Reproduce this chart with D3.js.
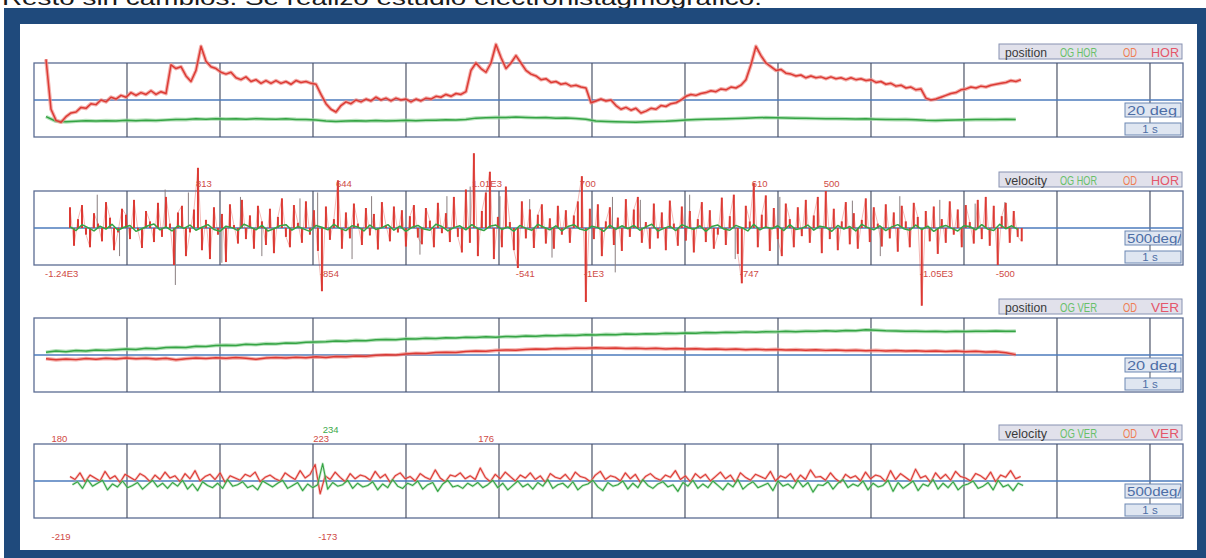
<!DOCTYPE html>
<html>
<head>
<meta charset="utf-8">
<script src="https://cdn.jsdelivr.net/npm/d3@7"></script>
<style>
  html, body { margin: 0; padding: 0; background: #fff; }
  svg { display: block; }
</style>
</head>
<body>
<script>
// ---------------- recorded traces (ENG) ----------------
// horizontal position, degrees (OD = red, OG = green)
const posHorOD = [22,-5,-11,-12,-9,-7,-6.5,-4,-4.5,-2,-2.5,0,-1,1.5,0.5,2.5,1.5,4,2.5,4,
  3,5,3,4.5,3.5,19,17,18,13,10,16,29,21,18,17,15,14,15,12,11,
  12.5,10,11,9,10.5,9,10.5,9,10,8.5,10.5,9.5,10,9,8.5,3,-2,-5,-6.5,-3,
  -1,-2,0,-1,0.5,-0.5,1.5,0,1,-0.5,1,0,0.5,-1,0.5,-0.5,1,0.5,2,1.5,
  3,2,3.5,3,4.5,16,20,17,15,20,30,23,17,20,24,20,16,14,13,11,
  11.5,9.5,10,8.5,9,7.5,8,7,6.5,-1.5,-0.5,0.5,-0.5,0,-3,-5,-4,-5.5,-4.5,-7,
  -6,-4.5,-5,-3,-3.5,-2,-1.5,0,2,3,2.5,3.5,4,5,4.5,6,5.5,7,6.5,8,
  11,19,29,24,20,18,16,16.5,14.5,14,13,13.5,12,13,12,12.5,11.5,12.5,11.5,12,
  11,12,11,11.5,10.5,11,9.5,10,8.5,9,7.5,8,6.5,7,5.5,6,1,0,0.5,1.5,
  2.5,3.5,4,5.5,6,7,6.5,7.5,7,8,8.5,9,9.5,10.5,10,11];
const posHorOG = [-9,-11.5,-11.8,-11.5,-11.2,-11.4,-11.2,-11.3,-11,-11.2,-10.9,-11.1,-10.8,-10.5,-10.6,-10.2,-10.4,-10.1,-10.3,-10.2,
  -10.4,-10.1,-10.3,-10.4,-10.2,-10.5,-10.6,-10.8,-11.3,-11.6,-11.4,-11.2,-11.4,-11.1,-11.3,-11.2,-11,-11.2,-11,-10.9,
  -10.7,-10.8,-10.5,-9.8,-9.6,-9.4,-9.5,-9.2,-9.4,-9.6,-9.5,-9.8,-9.7,-10,-10.4,-11.4,-11.6,-11.8,-11.9,-12,
  -11.8,-11.6,-11.5,-11.2,-10.8,-10.6,-10.4,-10.3,-10.2,-10,-9.8,-9.6,-9.5,-9.6,-9.7,-9.8,-9.9,-10,-10.1,-10.1,
  -10.2,-10.3,-10.2,-10.4,-10.5,-10.6,-10.5,-10.7,-11,-11.1,-10.9,-10.8,-10.7,-10.6,-10.5,-10.6,-10.4,-10.5];

// horizontal velocity, deg/s
const velHorOD = [280,-240,120,310,-90,-260,200,60,-180,350,
  140,-300,-60,260,180,-150,380,-40,-270,230,
  90,-190,340,-120,420,60,-500,210,300,-380,
  -60,250,813,-300,110,-420,280,-90,190,-460,
  320,40,-210,380,-150,170,-280,300,90,-230,
  260,-340,150,400,-120,-260,310,70,-200,360,
  -90,240,-310,-854,290,-160,120,644,-280,210,
  -140,330,60,-230,270,-100,190,-290,350,40,
  -180,290,-60,240,-250,160,310,-130,-220,270,
  100,-260,340,-70,200,-190,420,-120,-330,520,
  -200,1010,-380,230,480,760,-420,150,-260,560,
  80,-300,-541,360,-140,250,-270,180,320,-210,
  130,-280,300,-90,240,-200,170,360,700,-1000,
  260,-150,320,-380,90,280,-230,140,-310,390,
  -120,250,420,-200,80,-280,330,-140,210,-300,
  370,60,-240,290,-170,230,-330,120,350,-190,
  240,-280,-90,410,-230,160,450,-350,-747,300,
  90,610,-260,180,440,-310,270,-150,-380,330,
  120,-260,280,-110,380,-200,170,420,-340,500,
  -150,260,-300,90,350,-220,200,-280,110,400,
  -190,280,60,-250,320,-140,210,-320,300,90,
  -260,340,150,-1050,230,-180,290,-350,120,-200,
  360,-90,250,-260,310,80,-210,380,-150,420,
  -240,300,-500,160,340,-200,230,-120,-180];
const velHorOG = [20,-35,45,5,-40,25,-15,50,-30,10,35,-45,-10,30,55,-25,15,-40,30,-5,
  40,-30,10,45,-20,-45,25,5,-35,50,15,-25,35,-40,-10,30,45,-30,20,-15,
  -45,35,10,-25,50,-5,-35,30,15,-40,40,-20,5,45,-30,25,-45,10,35,-15,
  -30,50,20,-40,5,30,-25,45,-10,-35,25,40,-20,15,-45,35,-5,-30,50,10,
  -25,30,-40,20,45,-15,-35,25,5,-45,40,-20,30,-10,35,-30,15,50,-40,-5,
  25,-35,45,10,-20,30,-45,20,40,-15,-30,35,5,-40,50,-25,15,-10,30,-35,
  45,-20,-5,40,-30,25,10,-45,35,-15,20,-40,50,5,-25,30,-35,15,45,-10,
  -30,40,-20,25,-45,10,35,-5,-40,30,20,-25,45,-15,-35,50,-10,30,-20];
// thin single-sample bursts of the horizontal velocity trace: [time s, deg/s]
const velHorBursts = [[0.68,450],[0.92,-380],[1.41,520],[1.52,-770],[1.66,480],[2.02,-470],[2.22,420],
  [2.45,-380],[2.86,400],[3.05,480],[3.42,-420],[3.63,430],[4.15,-360],[4.44,430],[4.69,560],
  [5.01,430],[5.33,390],[5.57,-400],[6.22,420],[6.25,-600],[6.52,380],[7.05,450],[7.54,-420],
  [8.02,420],[8.80,370],[9.10,-380],[9.31,430],[9.74,380],[10.12,330],[10.44,350]];

// vertical position, degrees
const posVerOG = [1.5,2.2,1.8,2.4,2.1,2.7,2.5,2.9,3.2,3.0,3.6,3.4,4.0,4.2,4.0,4.7,4.6,5.2,5.3,5.2,
  5.8,5.6,6.1,6.0,6.5,6.4,6.9,7.0,7.2,7.6,7.4,7.9,7.7,8.2,8.4,8.3,8.8,8.7,9.1,8.9,
  9.3,9.2,9.6,9.5,9.8,9.6,10.0,9.9,10.3,10.1,10.5,10.4,10.7,10.6,11.0,10.8,11.1,11.0,11.4,11.2,
  11.5,11.4,11.7,11.6,11.9,11.8,12.1,12.0,12.3,12.2,12.5,12.3,12.6,12.5,12.8,12.6,12.9,12.8,13.1,12.9,
  13.2,13.1,13.6,13.4,13.1,13.0,12.8,12.9,12.7,12.8,12.6,12.8,12.7,12.9,12.8,13.0,12.8,12.9];
const posVerOD = [-2.0,-2.6,-2.2,-2.5,-1.9,-2.3,-1.8,-2.1,-1.6,-2.0,-1.7,-2.2,-1.8,-2.6,-2.0,-1.6,-1.9,-1.5,-1.8,-1.4,
  -1.7,-2.3,-1.6,-1.3,-1.6,-1.2,-1.5,-1.0,-1.3,-0.8,-1.0,-0.5,-0.7,-0.2,0.1,0.0,0.6,0.9,0.8,1.3,
  1.5,1.4,1.9,2.1,2.0,2.5,2.7,2.6,3.0,3.2,3.1,3.5,3.4,3.7,3.6,3.9,3.7,3.8,3.5,3.7,
  3.4,3.6,3.3,3.5,3.2,3.4,3.1,3.3,3.0,3.2,2.9,3.1,2.8,3.0,2.7,2.9,2.6,2.8,2.5,2.7,
  2.4,2.6,2.3,2.5,2.2,2.4,2.1,2.3,2.0,2.2,1.9,2.1,1.8,2.0,1.6,1.8,1.2,0.2];

// vertical velocity, deg/s
const velVerOD = [60,20,110,-10,80,40,0,130,30,70,-20,90,50,10,100,60,-10,80,20,120,
  40,70,-10,100,30,140,0,60,90,20,110,-20,70,40,10,90,60,120,-10,50,
  80,30,0,110,60,20,140,40,90,223,-173,70,20,120,50,-10,100,30,80,60,
  10,130,40,90,-20,70,110,30,60,0,100,50,20,150,40,-10,80,60,110,30,
  70,20,176,50,-10,90,30,120,60,0,80,40,110,20,70,-20,100,50,30,90,
  10,120,60,40,-10,80,130,20,70,50,0,110,30,90,-20,60,100,40,10,80,
  50,140,20,70,-10,100,40,90,0,60,120,30,80,-20,110,50,10,90,60,30,
  130,0,70,40,100,-10,80,20,150,50,60,10,110,30,-20,90,40,70,0,120,
  30,80,60,-10,140,20,100,50,0,160,40,70,-20,110,30,90,10,130,60,40,
  0,100,70,20,120,-10,80,50,140,30,60];
const velVerOG = [-50,-10,-100,20,-70,-30,10,-120,-40,-80,0,-90,-60,-20,-110,-50,10,-80,-30,-100,
  -20,-70,10,-110,-40,-130,-10,-60,-90,-30,-100,20,-70,-50,-10,-90,-60,-120,0,-40,
  -80,-30,10,-100,-60,-20,-130,-40,-90,-50,234,-110,-20,-70,-50,10,-100,-30,-80,-60,
  -10,-120,-40,-90,20,-70,-100,-30,-60,0,-110,-50,-20,-140,-40,10,-80,-60,-100,-30,
  -70,-20,-90,-50,10,-90,-30,-120,-60,0,-80,-40,-110,-20,-70,20,-100,-50,-30,-90,
  -10,-120,-60,-40,10,-80,-130,-20,-70,-50,0,-110,-30,-90,20,-60,-100,-40,-10,-80,
  -50,-140,-20,-70,10,-100,-40,-90,0,-60,-120,-30,-80,20,-110,-50,-10,-90,-60,-30,
  -130,0,-70,-40,-100,10,-80,-20,-150,-50,-60,-10,-110,-30,20,-90,-40,-70,0,-120,
  -30,-80,-60,10,-140,-20,-100,-50,0,-130,-40,-70,20,-110,-30,-90,-10,-120,-60,-40,
  0,-100,-70,-20,-120,10,-80,-50,-130,-30,-60];

// annotated extremes: sample index into a trace (or a time for the ones before the trace)
const velHorPeakIdx = [32,67,101,128,171,189,63,112,129,168,213,232];
const velHorEarly = [[0.14,-1240]];
const velVerPeaksOD = [49,82,50];
const velVerPeaksOG = [50];
const velVerEarly = [[0.21,180],[0.21,-219]];

// time base of each recording (s)
const tPosStart = 0.129, dtPosOD = 0.05376, dtPos = 0.1075;
const tVelStart = 0.387, dtVelHorOD = 0.043, dtVelHorOG = 0.0645, dtVelVer = 0.0538;

// ---------------- drawing ----------------
const W = 1206, H = 558;
const RED = "#dc3a34", RED_HALO = "#ee8d87", GREEN = "#35a444", GREEN_HALO = "#94d39b";
const svg = d3.select("body").append("svg").attr("width", W).attr("height", H)
  .style("font-family", "'Liberation Sans', Arial, sans-serif");

svg.append("text").attr("x", 2).attr("y", 5).attr("font-size", 21).attr("fill", "#1a1a1a")
  .attr("textLength", 760).attr("lengthAdjust", "spacingAndGlyphs")
  .text("Resto sin cambios. Se realizó estudio electronistagmográfico.");

svg.append("rect").attr("x", 4).attr("y", 8).attr("width", W - 4).attr("height", H - 8).attr("fill", "#1f4a7c");
svg.append("rect").attr("x", 20).attr("y", 24).attr("width", 1177).attr("height", 526).attr("fill", "#fff");

const x = d3.scaleLinear().domain([0, 12.355]).range([34, 1183]);
const panelH = 74;

const panels = [
  { top: 63,  kind: "position", plane: "HOR", scale: "20 deg" },
  { top: 191, kind: "velocity", plane: "HOR", scale: "500deg/s" },
  { top: 318, kind: "position", plane: "VER", scale: "20 deg" },
  { top: 444, kind: "velocity", plane: "VER", scale: "500deg/s" }
];

panels.forEach((p, k) => {
  const g = svg.append("g");
  const bottom = p.top + panelH, mid = p.top + panelH / 2;
  p.y = d3.scaleLinear().domain(p.kind === "position" ? [-20, 20] : [-500, 500]).range([bottom, p.top]);
  p.g = g;
  // frame and one-second grid
  g.append("rect").attr("x", x(0)).attr("y", p.top).attr("width", x(12.355) - x(0)).attr("height", panelH)
    .attr("fill", "none").attr("stroke", "#5b6c93").attr("stroke-width", 1.3);
  g.selectAll(".vg").data(d3.range(1, 12)).join("line")
    .attr("x1", d => x(d)).attr("x2", d => x(d)).attr("y1", p.top).attr("y2", bottom)
    .attr("stroke", "#4c5468").attr("stroke-width", 1.2);
  g.append("line").attr("x1", x(12)).attr("x2", x(12)).attr("y1", p.top).attr("y2", mid + 3)
    .attr("stroke", "#4c5468").attr("stroke-width", 1.2);
  g.append("line").attr("x1", x(0)).attr("x2", x(12.355)).attr("y1", p.y(0)).attr("y2", p.y(0))
    .attr("stroke", "#4d7bbd").attr("stroke-width", 1.3);

  // legend
  const ly = p.top - 19;
  g.append("rect").attr("x", 999).attr("y", ly).attr("width", 183).attr("height", 15)
    .attr("fill", "#e1e1eb").attr("stroke", "#8792b2").attr("stroke-width", 1);
  const leg = [
    { t: p.kind, x: 1005, w: 42, c: "#3a3a3a" },
    { t: "OG " + p.plane, x: 1060, w: 37, c: "#68c06a" },
    { t: "OD", x: 1123, w: 14, c: "#ef7d52" },
    { t: p.plane, x: 1151, w: 28, c: "#e4566a" }
  ];
  g.selectAll(".lg").data(leg).join("text")
    .attr("x", d => d.x).attr("y", ly + 12.5).attr("font-size", 13.5)
    .attr("textLength", d => d.w).attr("lengthAdjust", "spacingAndGlyphs")
    .attr("fill", d => d.c).text(d => d.t);

  // scale boxes
  const clipId = "clip" + k;
  svg.append("clipPath").attr("id", clipId).append("rect")
    .attr("x", 1125).attr("y", mid + 3).attr("width", 56).attr("height", 14);
  g.append("rect").attr("x", 1125).attr("y", mid + 3).attr("width", 56).attr("height", 14)
    .attr("fill", "#dfe6f1").attr("stroke", "#6d88b3");
  g.append("text").attr("clip-path", `url(#${clipId})`)
    .attr("x", 1127).attr("y", mid + 14.5).attr("font-size", 12.5).attr("fill", "#4d6ea6")
    .attr("textLength", p.kind === "position" ? 50 : 62).attr("lengthAdjust", "spacingAndGlyphs")
    .text(p.scale);
  g.append("line").attr("x1", x(12)).attr("x2", x(12)).attr("y1", mid + 17).attr("y2", mid + 23)
    .attr("stroke", "#4c5468");
  g.append("rect").attr("x", 1125).attr("y", mid + 23).attr("width", 56).attr("height", 12)
    .attr("fill", "#dfe6f1").attr("stroke", "#6d88b3");
  g.append("text").attr("x", 1150).attr("y", mid + 33).attr("text-anchor", "middle")
    .attr("font-size", 11.5).attr("fill", "#4d6ea6").text("1 s");
});

// traces: optional soft halo under a core stroke, as the recorder's thick pen
function trace(p, values, t0, dt, color, halo, width, haloWidth, haloOpacity) {
  const line = d3.line().x((d, i) => x(t0 + i * dt)).y(d => p.y(d));
  if (halo) p.g.append("path").datum(values).attr("d", line).attr("fill", "none")
    .attr("stroke", halo).attr("stroke-width", haloWidth || width + 2.2)
    .attr("stroke-opacity", haloOpacity || 0.7).attr("stroke-linejoin", "round");
  p.g.append("path").datum(values).attr("d", line).attr("fill", "none")
    .attr("stroke", color).attr("stroke-width", width).attr("stroke-linejoin", "round");
}
// horizontal velocity: one stem per sample plus a faint connecting trace
function stems(p, values, t0, dt, color, width) {
  p.g.append("g").selectAll("line").data(values).join("line")
    .attr("x1", (d, i) => x(t0 + i * dt)).attr("x2", (d, i) => x(t0 + i * dt))
    .attr("y1", p.y(0)).attr("y2", d => p.y(d))
    .attr("stroke", color).attr("stroke-width", width);
  p.g.append("path").datum(values)
    .attr("d", d3.line().x((d, i) => x(t0 + i * dt)).y(d => p.y(d)))
    .attr("fill", "none").attr("stroke", color).attr("stroke-width", 0.6).attr("stroke-opacity", 0.6);
}

// panel 1: horizontal position
trace(panels[0], posHorOG, tPosStart, dtPos, GREEN, GREEN_HALO, 1.5);
trace(panels[0], posHorOD, tPosStart, dtPosOD, RED, RED_HALO, 1.5);

// panel 2: horizontal velocity
panels[1].g.selectAll(".burst").data(velHorBursts).join("line")
  .attr("x1", d => x(d[0])).attr("x2", d => x(d[0]))
  .attr("y1", panels[1].y(0)).attr("y2", d => panels[1].y(d[1]))
  .attr("stroke", "#8a7f80").attr("stroke-width", 1);
stems(panels[1], velHorOD, tVelStart, dtVelHorOD, RED, 2);
trace(panels[1], velHorOG, tVelStart, dtVelHorOG, GREEN, null, 1.5);

// panel 3: vertical position
trace(panels[2], posVerOG, tPosStart, dtPos, GREEN, GREEN_HALO, 1.5);
trace(panels[2], posVerOD, tPosStart, dtPos, RED, RED_HALO, 1.5);

// panel 4: vertical velocity
trace(panels[3], velVerOD, tVelStart, dtVelVer, RED, RED_HALO, 1.1, 2.6, 0.5);
trace(panels[3], velVerOG, tVelStart + dtVelVer / 2, dtVelVer, GREEN, GREEN_HALO, 1.1, 2.6, 0.5);

// extreme-value annotations
function fmt(v) {
  const a = Math.abs(v);
  if (a >= 1000) return (v < 0 ? "-" : "") + (+(a / 1000).toPrecision(3)) + "E3";
  return String(v);
}
function label(p, t, v, color, topY, botY, dx) {
  p.g.append("text").attr("x", x(t) - 2 + (dx || 0)).attr("y", v >= 0 ? topY : botY)
    .attr("font-size", 9.5).attr("fill", color).text(fmt(v));
}
const P2 = panels[1], P4 = panels[3];
velHorPeakIdx.forEach(i => label(P2, tVelStart + i * dtVelHorOD, velHorOD[i], "#cf4a45", P2.top - 4, P2.top + panelH + 12));
velHorEarly.forEach(d => label(P2, d[0], d[1], "#cf4a45", P2.top - 4, P2.top + panelH + 12));
velVerPeaksOD.forEach(i => label(P4, tVelStart + i * dtVelVer, velVerOD[i], "#cf4a45", P4.top - 2, P4.top + panelH + 22));
velVerPeaksOG.forEach(i => label(P4, tVelStart + dtVelVer / 2 + i * dtVelVer, velVerOG[i], "#3da94a", P4.top - 11, P4.top + panelH + 22, 2));
velVerEarly.forEach(d => label(P4, d[0], d[1], "#cf4a45", P4.top - 2, P4.top + panelH + 22));
</script>
</body>
</html>
